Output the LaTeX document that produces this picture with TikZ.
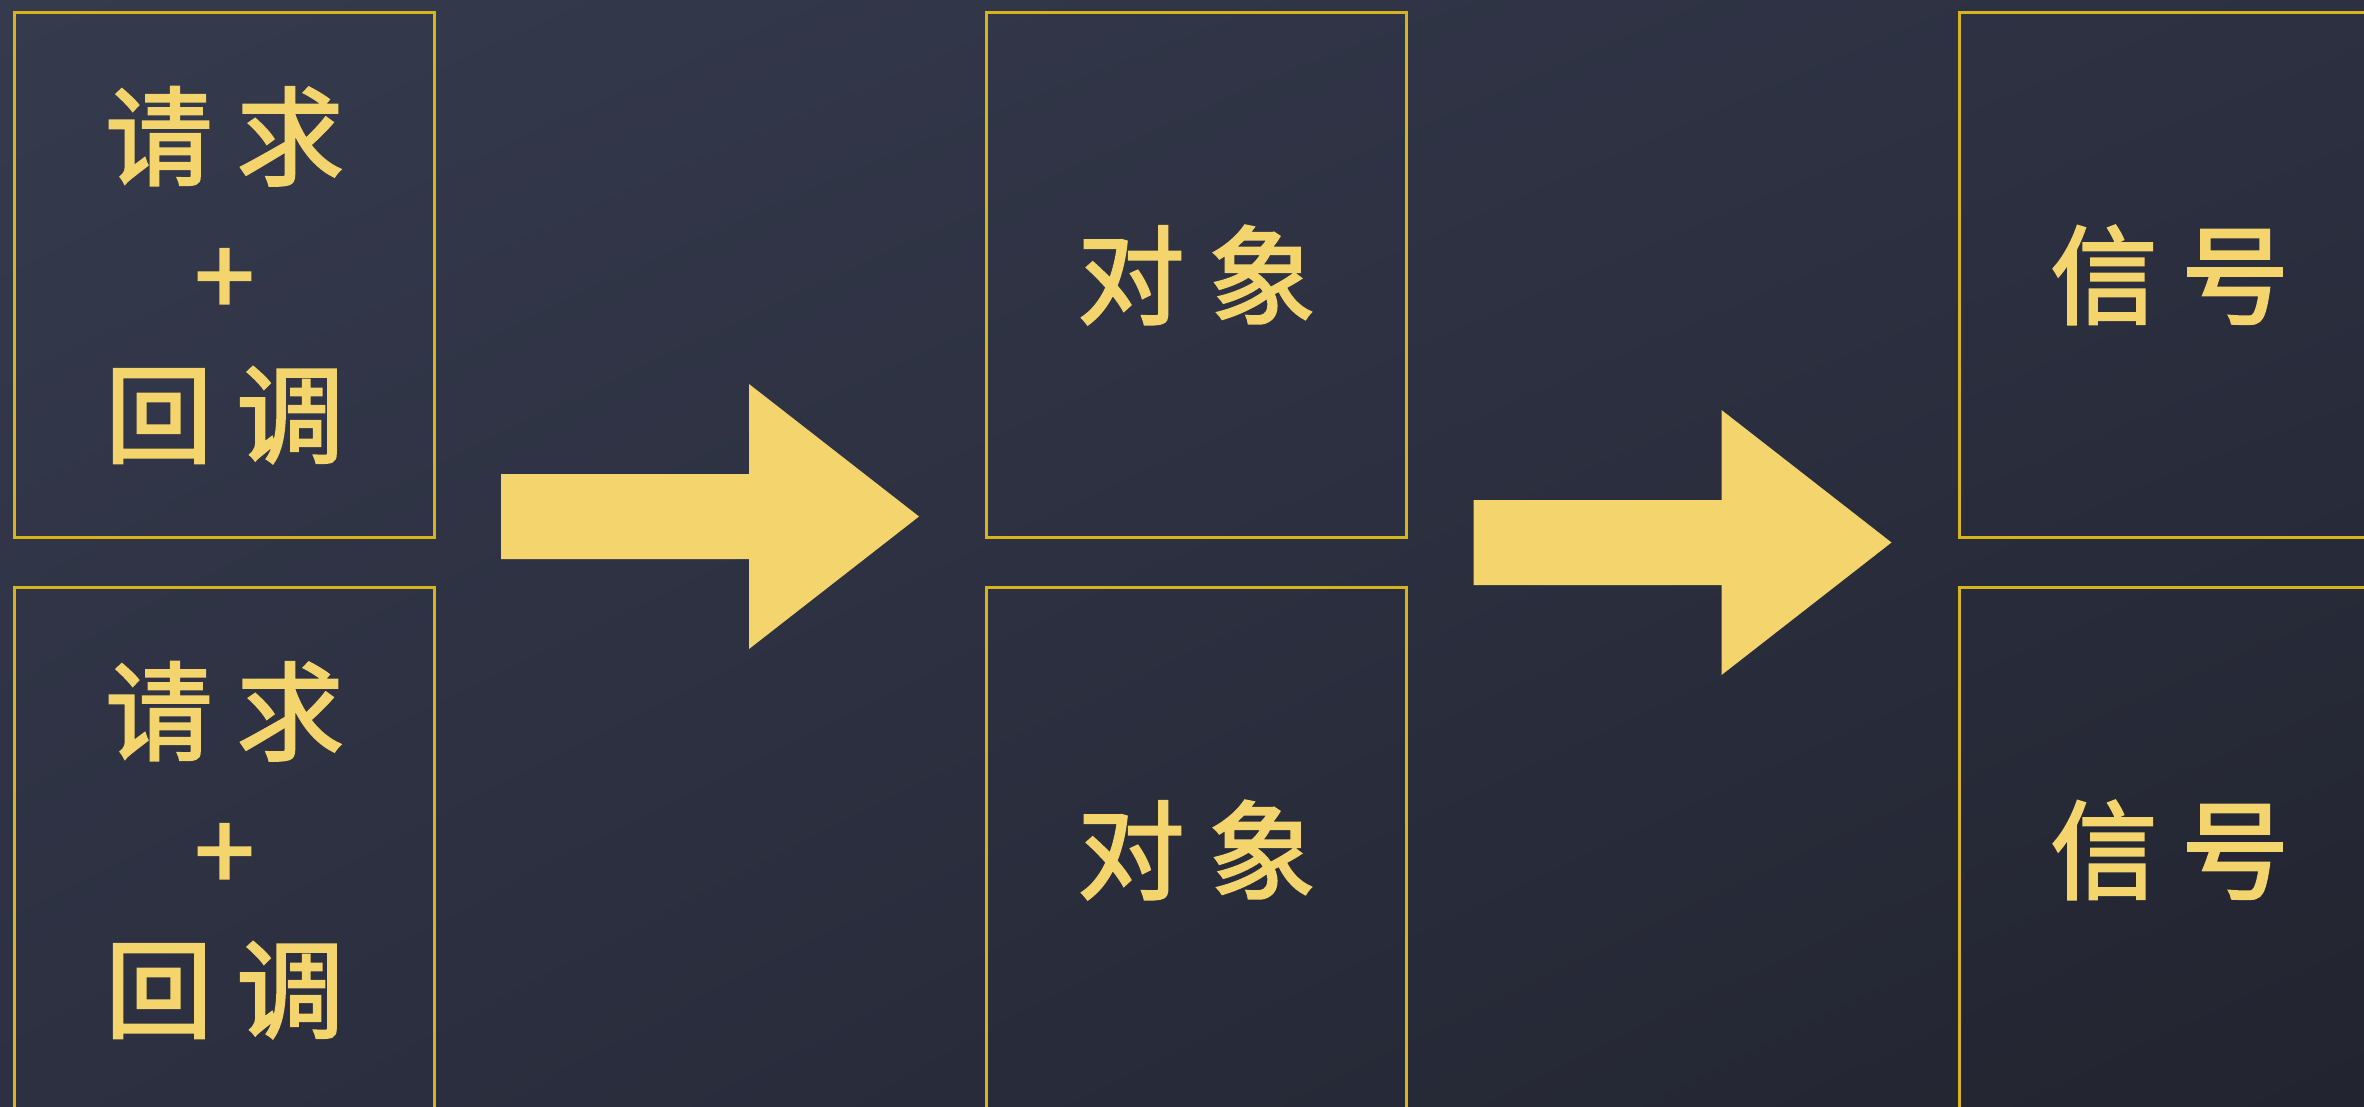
\documentclass[tikz,border=0pt]{standalone}
\usepackage{fontspec}
\newfontfamily\cjk{Noto Sans CJK SC}[UprightFeatures={FakeBold=2.2}]
\usetikzlibrary{positioning,shadings}
\definecolor{bgtop}{HTML}{353A4D}
\definecolor{bgmid}{HTML}{2C3041}
\definecolor{bgbot}{HTML}{22242F}
\definecolor{gold}{HTML}{F4D46C}
\definecolor{frame}{HTML}{D8B41C}

\begin{document}
\begin{tikzpicture}[x=0.01cm,y=-0.01cm,
	box/.style={draw=frame,line width=0.03cm,minimum width=4.19cm,minimum height=5.24cm,inner sep=0pt},
	word/.style={text=gold,font=\cjk\fontsize{30.5pt}{39.5pt}\selectfont,align=center}]
		% background
		\shade[upper left=bgtop,upper right=bgmid,lower left=bgmid,lower right=bgbot] (0,0) rectangle (2364,1106);
		\useasboundingbox (0,0) rectangle (2364,1106);
		% upper row
		\node[box,word] (req1) at (224.5,275) {请 求\\+\\回 调};
		\node[box,word] (obj1) at (1196.5,275) {对 象};
		\node[box,word] (sig1) at (2169.5,275) {信 号};
		% lower row, cut by the page
		\node[box,word] (req2) at (224.5,850) {请 求\\+\\回 调};
		\node[box,word] (obj2) at (1196.5,850) {对 象};
		\node[box,word] (sig2) at (2169.5,850) {信 号};
		% block arrows
		\foreach \dx/\dy in {0/0,972.5/26}
			\fill[gold,shift={(\dx,\dy)}] (501,474) -- (749,474) -- (749,384) -- (919,516.5) -- (749,649) -- (749,559) -- (501,559) -- cycle;
\end{tikzpicture}
\end{document}
